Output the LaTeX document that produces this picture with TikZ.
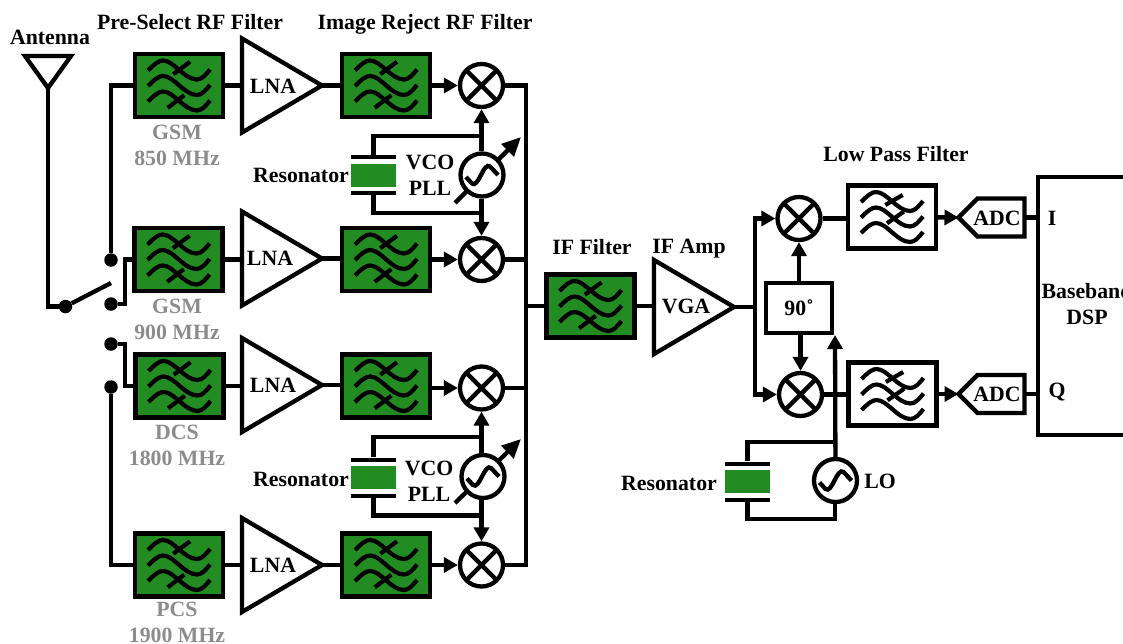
\documentclass[tikz,border=0pt]{standalone}
\usepackage{fontspec}
\setmainfont{Liberation Serif}
\usetikzlibrary{arrows.meta, shapes.geometric, shapes.symbols}
\definecolor{FilterColor}{RGB}{34,139,34}
\definecolor{BandColor}{RGB}{140,140,140}
\tikzstyle{wire} = [line width=4.3pt, black, line join=miter]
\tikzstyle{arrow} = [wire, -{Triangle[length=14pt,width=15pt]}]
\tikzstyle{tune} = [wire, -{Triangle[length=19pt,width=17pt]}]
\tikzstyle{lbl} = [font=\fontsize{21.8}{26}\selectfont\bfseries, inner sep=0pt, align=center]
\tikzstyle{bandlbl} = [lbl, text=BandColor]
\tikzstyle{rffilter} = [wire, draw, fill=FilterColor, minimum width=88pt, minimum height=63pt, inner sep=0pt]
\tikzstyle{lpfilter} = [rffilter, fill=white]
\tikzstyle{lna} = [wire, draw, fill=white, isosceles triangle, isosceles triangle stretches, shape border rotate=0, minimum width=94pt, minimum height=80pt, inner sep=0pt, outer sep=0pt, anchor=lower side]
\tikzstyle{mixer} = [wire, draw, fill=white, circle, minimum size=43pt, inner sep=0pt, path picture={\draw[wire] (path picture bounding box.north west) -- (path picture bounding box.south east) (path picture bounding box.north east) -- (path picture bounding box.south west);}]
\tikzstyle{osc} = [wire, draw, fill=white, circle, minimum size=43pt, inner sep=0pt]
\tikzstyle{dot} = [circle, fill=black, minimum size=13.5pt, inner sep=0pt]
\tikzstyle{plate} = [fill=black, minimum width=45pt, minimum height=4pt, inner sep=0pt]
\tikzstyle{reson} = [fill=FilterColor, minimum width=45pt, minimum height=23pt, inner sep=0pt]
\tikzstyle{adc} = [wire, draw, fill=white, signal, signal to=west, signal pointer angle=90, minimum width=66pt, minimum height=38pt, inner sep=0pt, outer sep=0pt]
\newcommand{\wavetrio}{
    \foreach \yo in {-15,0.5,16}
        \draw[line width=4.2pt] (-31,\yo) .. controls (-24,\yo-7) and (-20,\yo-10) .. (-16,\yo-10) .. controls (-5,\yo-10) and (5,\yo+9) .. (18,\yo+9) .. controls (23,\yo+9) and (27,\yo+4) .. (31,\yo-1);
}
\tikzset{
    rfwaves/.pic={\wavetrio
        \draw[line width=4.2pt] (-5.7,-11.3) -- (11,-23.7) (-11.3,22.3) -- (5.3,9.7);},
    lpwaves/.pic={\wavetrio
        \draw[line width=4.2pt] (-6.7,-12) -- (10.7,-22) (-5,6.3) -- (11.7,-5.3);},
    sinewave/.pic={\draw[line width=4.3pt] (-16,2) -- (-10,8.5) .. controls (-7,11) and (-4,6) .. (-1,0) .. controls (2,-6) and (5,-11) .. (8,-8.5) -- (16,0);}
}
\begin{document}
\begin{tikzpicture}[x=1pt, y=-1pt]
    \useasboundingbox (0,0) rectangle (1123,643);
    \clip (0,0) rectangle (1123,643);

    % Antenna and switch
    \coordinate (antL) at (25,56);
    \coordinate (antR) at (71,56);
    \coordinate (antTip) at (48,88);
    \draw[wire] (antL) -- (antR) -- (antTip) -- cycle;
    \node[dot] (pole) at (65.5,306.5) {};
    \node[dot] (throw1) at (111,260) {};
    \node[dot] (throw2) at (111,304) {};
    \node[dot] (throw3) at (111,344) {};
    \node[dot] (throw4) at (111,387) {};
    \coordinate (armEnd) at (111,283);
    \draw[wire] (antTip) |- (pole);
    \draw[wire] (pole) -- (armEnd);
    \node[lbl] (antlbl) at (50,37) {Antenna};

    % Pre-select filters
    \node[rffilter] (pre1) at (179,85.5) {};
    \node[rffilter] (pre2) at (178.5,259.5) {};
    \node[rffilter] (pre3) at (179.5,386) {};
    \node[rffilter] (pre4) at (179,565) {};
    \pic at (pre1) {rfwaves};
    \pic at (pre2) {rfwaves};
    \pic at (pre3) {rfwaves};
    \pic at (pre4) {rfwaves};
    \draw[wire] (throw1) |- (pre1);
    \draw[wire] (throw2) -| (125,259.5) -- (pre2);
    \draw[wire] (throw3) -| (125,386) -- (pre3);
    \draw[wire] (throw4) |- (pre4);

    % Band labels
    \node[bandlbl] (band1) at (177,145) {GSM\\850 MHz};
    \node[bandlbl] (band2) at (177,319) {GSM\\900 MHz};
    \node[bandlbl] (band3) at (177,445) {DCS\\1800 MHz};
    \node[bandlbl] (band4) at (177,622) {PCS\\1900 MHz};
    \node[lbl] (prelbl) at (190,22) {Pre-Select RF Filter};
    \node[lbl] (imglbl) at (425,24) {Image Reject RF Filter};

    % LNAs
    \node[lna] (lna1) at (242,85.5) {};
    \node[lna] (lna2) at (242,258.5) {};
    \node[lna] (lna3) at (242,385) {};
    \node[lna] (lna4) at (242,565) {};
    \node[lbl] (lnalbl1) at (273,86) {LNA};
    \node[lbl] (lnalbl2) at (270,258) {LNA};
    \node[lbl] (lnalbl3) at (273,385) {LNA};
    \node[lbl] (lnalbl4) at (273,565) {LNA};
    \draw[wire] (pre1) -- (pre1 -| lna1.lower side);
    \draw[wire] (pre2) -- (pre2 -| lna2.lower side);
    \draw[wire] (pre3) -- (pre3 -| lna3.lower side);
    \draw[wire] (pre4) -- (pre4 -| lna4.lower side);

    % Image reject filters
    \node[rffilter] (img1) at (386,85.5) {};
    \node[rffilter] (img2) at (386,259.5) {};
    \node[rffilter] (img3) at (386,386) {};
    \node[rffilter] (img4) at (386,565) {};
    \pic at (img1) {rfwaves};
    \pic at (img2) {rfwaves};
    \pic at (img3) {rfwaves};
    \pic at (img4) {rfwaves};
    \draw[wire] (lna1.apex) -- (lna1.apex -| img1.west);
    \draw[wire] (lna2.apex) -- (lna2.apex -| img2.west);
    \draw[wire] (lna3.apex) -- (lna3.apex -| img3.west);
    \draw[wire] (lna4.apex) -- (lna4.apex -| img4.west);

    % Mixers
    \node[mixer] (mix1) at (481.5,85.5) {};
    \node[mixer] (mix2) at (481.5,259.5) {};
    \node[mixer] (mix3) at (481.5,388) {};
    \node[mixer] (mix4) at (481.5,565) {};
    \draw[arrow] (img1) -- (mix1);
    \draw[arrow] (img2) -- (mix2);
    \draw[arrow] (img3.east |- mix3) -- (mix3);
    \draw[arrow] (img4) -- (mix4);

    % Upper VCO
    \coordinate (tuneA1) at (455,203);
    \coordinate (tuneB1) at (521,137);
    \draw[tune] (tuneA1) -- (tuneB1);
    \node[osc] (vco1) at (482,175) {};
    \pic at (vco1) {sinewave};
    \draw[arrow] (mix1 |- vco1.north) -- (mix1);
    \draw[arrow] (mix2 |- vco1.south) -- (mix2);
    \node[plate] (capA1) at (373.5,157) {};
    \node[reson] (res1) at (373.5,175.5) {};
    \node[plate] (capB1) at (373.5,193) {};
    \coordinate (tapA1) at (481.5,136);
    \coordinate (tapB1) at (481.5,213);
    \draw[wire] (capA1) |- (tapA1);
    \draw[wire] (capB1) |- (tapB1);
    \node[lbl] (reslbl1) at (301,175) {Resonator};
    \node[lbl] (vcolbl1) at (430,175) {VCO\\PLL};

    % Lower VCO
    \coordinate (tuneA2) at (455,503);
    \coordinate (tuneB2) at (521,439);
    \draw[tune] (tuneA2) -- (tuneB2);
    \node[osc] (vco2) at (483,476.5) {};
    \pic at (vco2) {sinewave};
    \draw[arrow] (mix3 |- vco2.north) -- (mix3);
    \draw[arrow] (mix4 |- vco2.south) -- (mix4);
    \node[plate] (capA2) at (373.5,459.5) {};
    \node[reson] (res2) at (373.5,477.5) {};
    \node[plate] (capB2) at (373.5,495.5) {};
    \coordinate (tapA2) at (481.5,437);
    \coordinate (tapB2) at (481.5,515.5);
    \draw[wire] (capA2) |- (tapA2);
    \draw[wire] (capB2) |- (tapB2);
    \node[lbl] (reslbl2) at (301,479) {Resonator};
    \node[lbl] (vcolbl2) at (429,481.5) {VCO\\PLL};

    % Combiner
    \coordinate (busTop) at (526,85.5);
    \coordinate (busBot) at (526,565);
    \draw[wire] (mix1) -- (busTop) -- (busBot) -- (mix4);
    \draw[wire] (mix2) -- (mix2 -| busTop);
    \draw[wire] (mix3) -- (mix3 -| busTop);

    % IF stage
    \node[rffilter] (iffilt) at (590.5,306) {};
    \pic at (iffilt) {rfwaves};
    \draw[wire] (busTop |- iffilt) -- (iffilt);
    \node[lna] (vga) at (654,307) {};
    \draw[wire] (iffilt) -- (iffilt -| vga.lower side);
    \node[lbl] (vgalbl) at (686,306) {VGA};
    \node[lbl] (iflbl) at (592,247) {IF Filter};
    \node[lbl] (amplbl) at (689,249) {IF Amp};

    % IQ mixers
    \node[mixer] (mixI) at (799,218.5) {};
    \node[mixer] (mixQ) at (800.5,394.5) {};
    \node[wire, draw, fill=white, minimum width=66pt, minimum height=50pt, inner sep=0pt, lbl] (shift) at (799,308) {90˚};
    \coordinate (ifNode) at (755,307);
    \draw[wire] (vga.apex) -- (ifNode);
    \draw[arrow] (ifNode) |- (mixI);
    \draw[arrow] (ifNode) |- (mixQ);
    \draw[arrow] (mixI |- shift.north) -- (mixI);
    \draw[arrow] (mixQ |- shift.south) -- (mixQ);

    % Local oscillator
    \node[osc] (lo) at (835.5,480.5) {};
    \pic at (lo) {sinewave};
    \coordinate (loTip) at (835,335);
    \draw[arrow] (lo) -- (loTip);
    \node[plate] (capA3) at (747.5,463.5) {};
    \node[reson] (res3) at (747.5,481.5) {};
    \node[plate] (capB3) at (747.5,499.5) {};
    \coordinate (tapA3) at (835,442);
    \coordinate (tapB3) at (835,519);
    \draw[wire] (capA3) |- (tapA3);
    \draw[wire] (capB3) |- (tapB3) -- (tapB3 |- lo.south);
    \node[lbl] (reslbl3) at (669,483) {Resonator};
    \node[lbl] (lolbl) at (880,481) {LO};

    % Low pass filters
    \node[lpfilter] (lpI) at (892,217) {};
    \node[lpfilter] (lpQ) at (892.5,394) {};
    \pic at (lpI) {lpwaves};
    \pic at (lpQ) {lpwaves};
    \draw[wire] (mixI) -- (mixI -| lpI.west);
    \draw[wire] (mixQ) -- (mixQ -| lpQ.west);
    \node[lbl] (lplbl) at (896,154) {Low Pass Filter};

    % ADCs and DSP
    \node[adc] (adcI) at (1001,217.5) {};
    \node[adc] (adcQ) at (1001,394) {};
    \node[lbl] (adclblI) at (997,218) {ADC};
    \node[lbl] (adclblQ) at (997,394) {ADC};
    \draw[arrow] (lpI) -- (adcI.west);
    \draw[arrow] (lpQ) -- (adcQ.west);
    \node[wire, draw, minimum width=140pt, minimum height=258pt] (dsp) at (1108,306) {};
    \draw[wire] (adcI.east) -- (adcI.east -| dsp.west);
    \draw[wire] (adcQ.east) -- (adcQ.east -| dsp.west);
    \node[lbl] (ilbl) at (1052,218) {I};
    \node[lbl] (qlbl) at (1057,392) {Q};
    \node[lbl] (dsplbl) at (1087,304) {Baseband\\DSP};
\end{tikzpicture}
\end{document}
